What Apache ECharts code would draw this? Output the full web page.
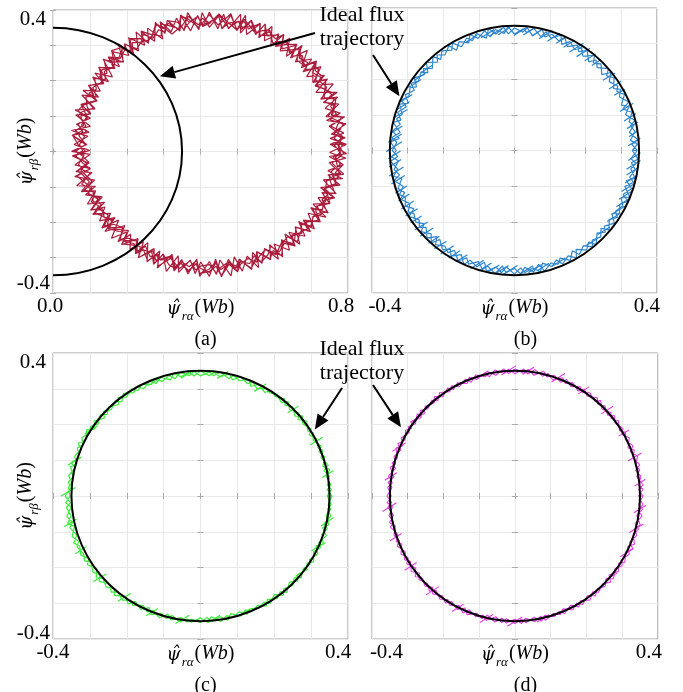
<!DOCTYPE html>
<html>
<head>
<meta charset="utf-8">
<script src="https://cdn.jsdelivr.net/npm/echarts@6/dist/echarts.min.js"></script>
<style>
  html, body { margin: 0; padding: 0; background: #fff; }
  #chart { width: 683px; height: 692px; }
</style>
</head>
<body>
<div id="chart"></div>
<script>
// ---- Ideal flux circle (centre x, centre y, radius) in Wb ----
var idealCircle = [0, 0, 0.35];

// ---- Axis ranges for each panel ----
var xRanges = [[0, 0.8], [-0.4, 0.4], [-0.4, 0.4], [-0.4, 0.4]];
var yRange = [-0.4, 0.4];
var tickStep = 0.1;
var captions = ['(a)', '(b)', '(c)', '(d)'];

// ---- sample angles (deg) of one electrical revolution ----
var sampleAngles = [0,3,5,9,12,14,18,21,23,27,30,32,36,39,41,45,48,50,54,57,59,63,66,68,72,75,77,81,84,86,
  90,93,95,99,102,104,108,111,113,117,120,122,126,129,131,135,138,140,144,147,149,153,156,158,162,165,167,171,174,176,
  180,183,185,189,192,194,198,201,203,207,210,212,216,219,221,225,228,230,234,237,239,243,246,248,252,255,257,261,264,266,
  270,273,275,279,282,284,288,291,293,297,300,302,306,309,311,315,318,320,324,327,329,333,336,338,342,345,347,351,354,356,360];

// ---- (a) estimated flux: orbit centre (Wb) and radius per revolution (mWb) ----
var centerA = [0.424, 0.02];
var radA1 = [372,328,366,333,375,326,369,331,377,324,370,334,374,327,368,330,376,325,371,332,
  365,329,373,335,367,326,378,331,370,328,374,333,366,325,372,330,369,336,375,327,
  368,331,373,324,377,329,366,334,371,326,369,332,375,328,364,335,372,327,376,330,
  367,325,373,333,370,328,378,331,365,326,372,334,368,329,375,324,370,332,366,328,
  374,330,369,335,377,326,371,331,367,333,373,325,376,329,368,334,372,327,365,330,
  375,332,370,326,374,329,367,335,371,328,376,331,369,325,373,333,366,329,372,327,371];
var radA2 = [327,369,332,375,325,366,330,373,328,377,335,368,326,372,331,376,329,365,334,371,
  324,374,330,367,327,378,333,370,328,364,331,373,326,377,329,368,335,372,324,369,
  330,375,327,366,333,371,328,376,325,370,334,367,329,373,326,377,331,365,328,372,
  332,374,325,369,330,376,327,366,335,371,328,373,331,368,326,375,333,370,329,367,
  324,372,330,377,327,365,334,371,326,374,331,368,328,376,325,369,332,373,330,366,
  327,375,333,370,329,367,326,372,331,377,328,365,334,371,325,374,330,368,327,373,329];
var radA3 = [350,362,340,371,345,333,358,368,338,352,365,331,347,374,342,356,336,369,349,330,
  361,344,372,337,353,366,332,346,359,370,341,335,363,350,374,339,328,357,367,345,
  334,352,371,340,362,331,348,373,343,355,338,366,347,329,360,369,342,351,335,372,
  356,337,364,346,330,370,353,341,358,333,367,349,339,375,344,332,361,354,336,368,
  348,343,371,334,357,363,340,350,330,366,359,345,373,338,352,335,369,347,362,331,
  355,370,341,336,364,349,358,333,372,344,339,367,351,329,360,346,374,337,353,365,350];
var radA4 = [338,366,352,329,371,344,359,334,368,347,331,362,355,373,340,336,365,350,327,370,
  348,357,335,369,343,361,330,374,351,339,367,345,332,358,372,337,353,364,333,349,
  370,341,356,328,363,375,346,338,360,352,334,368,343,371,331,357,365,339,350,373,
  336,362,348,330,366,354,342,372,335,359,347,369,333,355,364,341,328,367,352,344,
  373,337,358,349,331,370,345,361,339,366,352,333,374,343,357,336,368,350,329,363,
  346,371,338,360,353,332,369,342,365,335,358,348,372,340,334,362,351,367,337,356,338];
var radA5 = [344,358,339,352,366,341,355,336,361,348,333,357,346,369,338,351,363,342,356,335,
  360,347,337,365,350,343,358,334,353,367,345,339,362,349,332,356,368,340,352,337,
  359,346,334,364,351,343,357,338,370,347,341,355,336,361,349,333,358,345,366,339,
  352,344,367,337,356,348,335,362,342,354,338,365,350,341,357,333,361,346,336,359,
  347,369,340,353,335,358,344,364,338,351,362,336,355,343,368,349,339,357,345,334,
  360,352,337,366,343,355,332,359,348,363,341,354,338,367,346,336,361,350,344,357,348];
var radA6 = [361,339,349,368,335,355,346,363,332,357,350,340,366,336,353,345,371,338,359,347,
  334,362,352,341,369,337,356,348,330,364,343,357,339,367,346,335,360,351,372,342,
  338,354,365,333,359,347,369,340,352,336,363,344,357,331,366,349,338,361,345,355,
  335,368,341,359,350,333,364,346,356,339,370,343,352,337,362,348,334,358,347,366,
  336,355,344,371,339,351,360,333,357,345,340,364,349,336,367,342,354,338,361,350,
  333,358,346,369,340,352,337,363,347,356,372,343,351,335,365,348,339,360,344,353,361];

// ---- (b) estimated flux radius per revolution (mWb) and noise strokes [deg, mWb, deg, mWb] ----
var radB1 = [345,330,348,327,343,332,347,326,349,331,344,328,346,333,350,329,342,325,347,331,
  345,327,348,332,343,330,349,326,346,333,344,328,347,331,350,325,345,330,343,327,
  348,332,346,329,349,326,344,331,347,328,342,333,348,327,345,330,350,325,346,331,
  343,328,349,332,347,326,344,330,348,329,345,333,342,327,347,331,349,326,344,330,
  346,328,350,332,343,325,348,331,345,327,347,330,344,333,349,326,342,329,346,332,
  348,327,345,331,350,328,343,330,347,326,344,332,349,329,346,325,348,331,343,328,345];
var radB2 = [331,346,327,343,333,349,328,345,326,347,332,342,329,348,325,344,331,350,327,346,
  330,343,326,349,332,345,328,347,333,342,327,348,330,344,326,346,331,349,328,343,
  325,347,332,345,329,350,327,342,333,346,328,344,326,348,331,343,329,347,325,349,
  332,345,327,342,330,348,328,346,333,344,326,349,331,343,329,347,325,345,332,342,
  327,348,330,344,328,346,333,350,326,343,331,347,329,345,327,349,332,342,328,346,
  325,344,330,348,333,343,327,347,329,345,331,342,328,349,326,346,332,344,330,348,331];
var strokesB = [
  [2.4,320,5.6,355],[6.9,324,9.1,351],[11,322,13,356],[15.1,319,16.9,356],[20.3,316,21.7,359],
  [29,320,29,354],[33,317,33,357],[38.4,317,37.6,357],[47.7,323,46.4,352],[52,320,50,354],
  [56.5,316,53.5,357],[60.8,317,57.2,358],[64.6,321,61.4,352],[68.7,323,65.3,351],[73.2,320,68.8,353],
  [77.6,321,72.4,353],[81.4,325,76.6,351],[85.6,325,80.4,350],[90.3,323,83.7,351],[98,328,92,346],
  [102.3,329,95.7,345],[106.5,330,99.5,344],[114,333,108,340],[140.3,342,133.7,332],[145,344,139,331],
  [149.3,346,142.7,329],[156.7,347,151.3,327],[160.9,350,155.1,325],[165,352,159,322],[172.3,352,167.7,322],
  [176.3,355,171.7,320],[180.5,360,175.5,317],[183.7,355,180.3,320],[187.5,355,184.5,319],[191.5,359,188.5,315],
  [195.2,358,192.8,316],[199.7,355,198.3,318],[203.5,355,202.5,319],[207.3,358,206.7,316],[211,357,211,317],
  [214.8,355,215.2,319],[218.5,358,219.5,316],[222.3,358,223.7,315],[227.2,355,228.8,320],[230.8,356,233.2,318],
  [234.5,357,237.5,317],[238.5,354,241.5,320],[242.3,353,245.7,321],[249.6,354,254.4,320],[253.5,352,258.5,322],
  [257.5,351,262.5,324],[260.9,351,267.1,323],[264.5,351,271.5,323],[272.8,346,279.2,328],[276.5,345,283.5,329],
  [281,343,287,331],[288.6,341,295.4,334],[306.6,334,313.4,340],[314.7,332,321.3,343],[322.6,328,329.4,346],
  [326.8,327,333.2,347],[331.1,327,336.9,348],[335,324,341,350],[339,322,345,352],[343.7,324,348.3,350],
  [347.7,322,352.3,353],[350.5,319,355.5,355],[355,321,359,354]
];

// ---- (c) estimated flux radius per revolution (mWb) and noise strokes ----
var radC1 = [357,344,355,346,358,342,354,345,356,343,353,343,356,340,354,342,355,341,352,344,
  351,337,349,339,352,336,350,338,348,337,350,336,348,338,351,335,349,337,350,338,
  352,341,355,339,353,342,354,340,356,343,360,348,363,350,359,347,362,349,361,351,
  367,353,365,355,368,352,366,354,364,356,363,349,361,351,364,348,362,350,360,347,
  357,343,355,345,358,342,356,344,354,346,354,340,352,342,355,339,353,341,351,343,
  356,342,354,344,357,341,355,343,353,345,358,344,356,346,359,343,357,345,355,347,357];
var radC2 = [343,356,345,354,342,357,344,355,346,353,341,354,343,356,340,353,342,355,344,352,
  338,350,336,352,339,349,337,351,338,348,336,349,338,350,335,348,337,351,339,350,
  340,353,342,355,339,352,341,354,343,356,348,361,350,360,347,363,349,362,351,359,
  354,366,352,367,355,365,353,368,356,364,350,362,348,364,351,361,349,363,347,360,
  344,356,342,358,345,355,343,357,346,354,341,353,339,355,342,352,340,354,343,351,
  343,355,341,357,344,354,342,356,345,353,345,357,343,359,346,356,344,358,347,355,344];
var strokesC = [
  [8.9,334,11.1,367],[25.6,330,26.4,370],[44.6,332,43.4,365],[63.5,327,60.5,360],[82.2,332,77.8,356],
  [99.2,334,92.8,353],[114.7,340,109.3,346],[151,359,145,341],[166.6,370,161.4,341],[180,378,176,340],
  [193.1,380,190.9,342],[205.4,376,204.6,340],[219.5,376,220.5,336],[232.7,370,235.3,331],[246.2,366,249.8,335],
  [259.2,363,264.8,335],[273,356,279,338],[287.1,351,292.9,344],[318.9,342,325.1,356],[333,338,339,363],
  [345.5,337,350.5,366]
];

// ---- (d) estimated flux radius per revolution (mWb) and noise strokes ----
var radD1 = [358,347,360,345,357,348,361,346,359,347,357,345,358,346,356,344,359,347,357,345,
  356,344,357,343,355,345,358,342,356,344,355,343,357,342,354,344,356,341,355,343,
  356,344,358,343,355,345,357,342,356,346,357,345,359,344,356,346,358,343,357,345,
  358,346,357,344,359,345,356,347,358,344,357,345,359,343,356,346,358,344,357,345,
  356,344,358,343,355,345,357,342,356,344,357,345,356,343,358,344,355,346,357,343,
  358,346,359,345,357,347,360,344,358,346,359,347,361,346,358,348,360,345,359,347,358];
var radD2 = [346,359,348,357,345,360,347,358,344,359,345,357,347,358,344,356,346,359,345,357,
  343,356,345,357,342,355,344,358,343,356,342,355,344,357,341,354,343,356,342,355,
  344,356,343,358,345,355,342,357,344,356,345,357,344,359,346,356,343,358,345,357,
  346,358,344,357,347,359,345,356,344,358,345,357,343,359,346,356,344,358,345,357,
  344,356,343,358,345,355,342,357,344,356,345,357,343,356,344,358,346,355,343,357,
  346,358,345,359,347,357,344,360,346,358,347,359,346,361,348,358,345,360,347,359,347];
var strokesD = [
  [4.7,336,7.3,368],[17.2,331,18.8,374],[30,335,30,369],[43.6,333,42.4,372],[58.2,336,55.8,369],
  [72.2,335,67.8,370],[86.4,341,81.6,364],[96.4,341,89.6,364],[108.1,346,101.9,358],[145,359,139,345],
  [160,365,154,340],[173.1,367,168.9,337],[186.7,373,183.3,332],[199.7,371,198.3,334],[213.9,372,214.1,332],
  [228,373,230,331],[241.4,368,244.6,335],[254.5,367,259.5,337],[266.6,365,273.4,339],[279.9,358,286.1,346],
  [316.9,346,323.1,358],[330,340,336,363],[342.3,336,347.7,368],[352,336,356,368]
];

// ---- Arrow tips of the "Ideal flux trajectory" callouts (data coords per panel) ----
var calloutTips = [[0.29, 0.213], [-0.323, 0.152], [0.31, 0.186], [-0.319, 0.192]];

// ---------------------------------------------------------------
var SERIF = '"Liberation Serif", "Times New Roman", serif';
var D2R = Math.PI / 180;

// polar (deg, mWb) -> cartesian (Wb) around centre c
function pt(c, deg, mwb) {
  return [c[0] + mwb / 1000 * Math.cos(deg * D2R), c[1] + mwb / 1000 * Math.sin(deg * D2R)];
}
function revolutions(c, radiusLists) {
  var out = [];
  radiusLists.forEach(function (rads) {
    var n = Math.min(sampleAngles.length, rads.length);
    for (var i = 0; i < n; i++) out.push(pt(c, sampleAngles[i], rads[i]));
  });
  return out;
}
function strokes(c, list) {
  var out = [];
  list.forEach(function (s) {
    out.push(pt(c, s[0], s[1]));
    out.push(pt(c, s[2], s[3]));
    out.push(['-', '-']);
  });
  return out;
}

var origin = [0, 0];
var trajectories = [
  revolutions(centerA, [radA1, radA2, radA3, radA4, radA5, radA6]),
  revolutions(origin, [radB1, radB2]),
  revolutions(origin, [radC1, radC2]),
  revolutions(origin, [radD1, radD2])
];
var noiseStrokes = [[], strokes(origin, strokesB), strokes(origin, strokesC), strokes(origin, strokesD)];
var trajColors = ['#aa1d3c', '#2f86cc', '#3ceb3c', '#e23ee2'];
var trajWidths = [1.2, 1.2, 1.2, 1.1];

var grids = [
  { left: 53, top: 8, width: 295, height: 285 },
  { left: 372, top: 8, width: 297, height: 285 },
  { left: 53, top: 353, width: 295, height: 286 },
  { left: 372, top: 353, width: 297, height: 286 }
];
// horizontal nudges of the end labels on each x axis
var xLabelPad = [
  { mn: [0, 6, 0, 0], mx: [0, 14, 0, 0] },
  { mn: [0, 0, 0, 26], mx: [0, 20, 0, 0] },
  { mn: [0, 0, 0, 0], mx: [0, 20, 0, 0] },
  { mn: [0, 0, 0, 29], mx: [0, 18, 0, 0] }
];
var yLabelPad = [
  { mn: [0, 0, 20, 0], mx: [18, 4, 0, 0] },
  null,
  { mn: [0, 0, 12, 0], mx: [18, 4, 0, 0] },
  null
];

function near(a, b) { return Math.abs(a - b) < 1e-9; }

function axisNameRich() {
  var base = { fontFamily: SERIF, fontSize: 20, color: '#000', verticalAlign: 'bottom', padding: [0, 0, 5, 0] };
  return {
    p: Object.assign({}, base, { fontFamily: '"DejaVu Serif", serif', fontSize: 18, fontStyle: 'italic' }),
    s: { fontFamily: SERIF, fontSize: 13, fontStyle: 'italic', color: '#000', verticalAlign: 'bottom', padding: [0, 1, 0, 1] },
    q: Object.assign({}, base),
    w: Object.assign({}, base, { fontStyle: 'italic' })
  };
}

var xAxes = [], yAxes = [], series = [], titles = [];
grids.forEach(function (g, i) {
  g.show = true;
  g.borderColor = '#9d9d9d';
  g.borderWidth = 1;
  g.containLabel = false;
  var xr = xRanges[i];
  var lp = xLabelPad[i];
  xAxes.push({
    type: 'value', gridIndex: i, min: xr[0], max: xr[1], interval: tickStep, position: 'bottom',
    axisLine: { show: false },
    axisTick: { show: true, inside: true, length: 3, lineStyle: { color: '#aaa' } },
    splitLine: { show: true, lineStyle: { color: '#e9e9e9', width: 1 } },
    axisLabel: {
      show: true, margin: 3, color: '#000', fontFamily: SERIF, fontSize: 21, lineHeight: 20,
      formatter: function (v) {
        if (near(v, xr[0])) return '{mn|' + v.toFixed(1) + '}';
        if (near(v, xr[1])) return '{mx|' + v.toFixed(1) + '}';
        return '';
      },
      rich: {
        mn: { fontFamily: SERIF, fontSize: 21, color: '#000', padding: lp.mn },
        mx: { fontFamily: SERIF, fontSize: 21, color: '#000', padding: lp.mx }
      }
    },
    name: '{p|\u03C8\u0302}{s|r\u03B1}{q|(}{w|Wb}{q|)}',
    nameLocation: 'middle', nameGap: 5, nameMoveOverlap: false,
    nameTextStyle: { rich: axisNameRich() }
  });
  xAxes.push({
    type: 'value', gridIndex: i, min: xr[0], max: xr[1], interval: tickStep, position: 'top',
    axisLine: { show: false }, axisLabel: { show: false }, splitLine: { show: false },
    axisTick: { show: true, inside: true, length: 3, lineStyle: { color: '#aaa' } }
  });
  var yp = yLabelPad[i];
  var yAxis = {
    type: 'value', gridIndex: i, min: yRange[0], max: yRange[1], interval: tickStep, position: 'left',
    axisLine: { show: false },
    axisTick: { show: true, inside: true, length: 3, lineStyle: { color: '#aaa' } },
    splitLine: { show: true, lineStyle: { color: '#e9e9e9', width: 1 } },
    axisLabel: { show: false }
  };
  if (yp) {
    yAxis.axisLabel = {
      show: true, margin: 3, color: '#000', fontFamily: SERIF, fontSize: 21, lineHeight: 20,
      formatter: function (v) {
        if (near(v, yRange[0])) return '{mn|' + v.toFixed(1) + '}';
        if (near(v, yRange[1])) return '{mx|' + v.toFixed(1) + '}';
        return '';
      },
      rich: {
        mn: { fontFamily: SERIF, fontSize: 21, color: '#000', padding: yp.mn },
        mx: { fontFamily: SERIF, fontSize: 21, color: '#000', padding: yp.mx }
      }
    };
    yAxis.name = '{p|\u03C8\u0302}{s|r\u03B2}{q|(}{w|Wb}{q|)}';
    yAxis.nameLocation = 'middle';
    yAxis.nameGap = 12;
    yAxis.nameRotate = 90;
    yAxis.nameMoveOverlap = false;
    yAxis.nameTextStyle = { rich: axisNameRich() };
  }
  yAxes.push(yAxis);
  yAxes.push({
    type: 'value', gridIndex: i, min: yRange[0], max: yRange[1], interval: tickStep, position: 'right',
    axisLine: { show: false }, axisLabel: { show: false }, splitLine: { show: false },
    axisTick: { show: true, inside: true, length: 3, lineStyle: { color: '#aaa' } }
  });

  // estimated rotor-flux trajectory
  series.push({
    type: 'line', xAxisIndex: 2 * i, yAxisIndex: 2 * i,
    data: trajectories[i], showSymbol: false, symbol: 'none', smooth: false, clip: true,
    lineStyle: { color: trajColors[i], width: trajWidths[i] },
    z: 3, silent: true
  });
  if (noiseStrokes[i].length) {
    series.push({
      type: 'line', xAxisIndex: 2 * i, yAxisIndex: 2 * i,
      data: noiseStrokes[i], showSymbol: false, symbol: 'none', smooth: false, clip: true,
      connectNulls: false,
      lineStyle: { color: trajColors[i], width: trajWidths[i] },
      z: 3, silent: true
    });
  }
  // ideal flux trajectory
  series.push({
    type: 'custom', xAxisIndex: 2 * i, yAxisIndex: 2 * i, clip: true, z: 5, silent: true,
    data: [idealCircle],
    renderItem: function (params, api) {
      var c = api.coord([api.value(0), api.value(1)]);
      var s = api.size([api.value(2), api.value(2)]);
      var cs = params.coordSys;
      return {
        type: 'group',
        clipPath: { type: 'rect', shape: { x: cs.x, y: cs.y, width: cs.width, height: cs.height } },
        children: [{
          type: 'ellipse',
          shape: { cx: c[0], cy: c[1], rx: s[0], ry: s[1] },
          style: { fill: 'none', stroke: '#000', lineWidth: 2 }
        }]
      };
    }
  });

  titles.push({
    text: captions[i], left: g.left + g.width / 2, top: g.top + g.height + 32, textAlign: 'center',
    textStyle: { fontFamily: SERIF, fontSize: 20, fontWeight: 'normal', color: '#000' }
  });
});

var chart = echarts.init(document.getElementById('chart'), null, { renderer: 'canvas' });
chart.setOption({
  animation: false,
  backgroundColor: '#fff',
  title: titles,
  grid: grids,
  xAxis: xAxes,
  yAxis: yAxes,
  series: series
});

// ---- callouts: text blocks and arrows ----
function arrowEls(tail, tip) {
  var dx = tip[0] - tail[0], dy = tip[1] - tail[1];
  var len = Math.sqrt(dx * dx + dy * dy);
  var ux = dx / len, uy = dy / len;
  var hl = 15, hw = 6.5;
  var bx = tip[0] - ux * hl, by = tip[1] - uy * hl;
  return [
    { type: 'line', shape: { x1: tail[0], y1: tail[1], x2: bx, y2: by }, style: { stroke: '#000', lineWidth: 2 }, z: 20 },
    { type: 'polygon', shape: { points: [tip, [bx - uy * hw, by + ux * hw], [bx + uy * hw, by - ux * hw]] }, style: { fill: '#000' }, z: 20 }
  ];
}
var tipsPx = calloutTips.map(function (t, i) { return chart.convertToPixel({ gridIndex: i }, t); });
var textTop = [3, 337];
var tails = [[315, 33], [373, 55], [342, 388], [373, 385]];
var gfx = [];
textTop.forEach(function (ty) {
  gfx.push({
    type: 'text', x: 362, y: ty, z: 20,
    style: { text: 'Ideal flux\ntrajectory', fontFamily: SERIF, fontSize: 22, lineHeight: 24, fill: '#000', align: 'center', verticalAlign: 'top' }
  });
});
tipsPx.forEach(function (p, i) { gfx = gfx.concat(arrowEls(tails[i], p)); });
chart.setOption({ graphic: gfx });
</script>
</body>
</html>
